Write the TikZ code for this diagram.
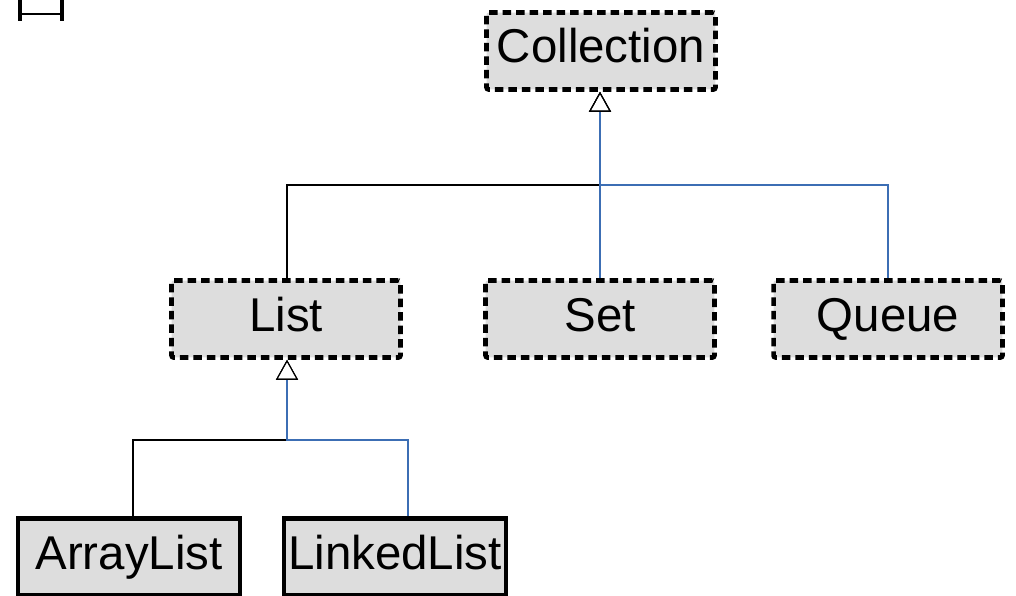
\documentclass[tikz,border=0pt]{standalone}
\usepackage{fontspec}
\setmainfont{Liberation Sans}
\usetikzlibrary{positioning, arrows.meta, calc}

\definecolor{boxgray}{HTML}{DDDDDD}
\definecolor{linkblue}{HTML}{3C6EB4}

\begin{document}
\begin{tikzpicture}[
		x=0.02cm, y=-0.02cm,
		iface/.style={draw, line width=2.6pt, dash pattern=on 0.17cm off 0.1cm, rounded corners=0.04cm, fill=boxgray, minimum width=4.58cm, minimum height=1.54cm, inner sep=0pt, text height=0.68cm, text depth=0.2cm, font=\fontsize{27}{32}\selectfont},
		impl/.style={draw, line width=2.6pt, fill=boxgray, minimum width=4.44cm, minimum height=1.54cm, inner sep=0pt, text height=0.68cm, text depth=0.2cm, font=\fontsize{27}{32}\selectfont},
		gen/.style={-{Triangle[open, width=0.44cm, length=0.4cm, color=black]}, line width=0.6pt},
		genblue/.style={gen, draw=linkblue}
		]
		
		\useasboundingbox (0,0) rectangle (1016,595);
		
		% ==========================================
		% INTERFACES
		% ==========================================
		
		\node[iface] (Collection) at (601,51) {Collection};
		
		\node[iface] (List) at (286,319) {List};
		\node[iface] (Set) at (600,319) {Set};
		\node[iface] (Queue) at (888,319) {Queue};
		
		% ==========================================
		% CLASSES
		% ==========================================
		
		\node[impl] (ArrayList) at (129,557) {ArrayList};
		\node[impl] (LinkedList) at (395,557) {LinkedList};
		
		% ==========================================
		% GENERALIZATIONS
		% ==========================================
		
		\coordinate (TopJoin) at (600,185);
		\coordinate (ListJoin) at (287,440);
		
		\draw[gen] (List.north -| 287,0) |- (TopJoin) -- (Collection.south -| TopJoin);
		\draw[genblue] (Set.north) -- (Collection.south -| TopJoin);
		\draw[genblue] (Queue.north) |- (TopJoin) -- (Collection.south -| TopJoin);
		
		\draw[gen] (ArrayList.north -| 133,0) |- (ListJoin) -- (List.south -| ListJoin);
		\draw[genblue] (LinkedList.north -| 408,0) |- (ListJoin) -- (List.south -| ListJoin);
		
		% legend fragment
		\draw[line width=2.2pt] (20,0) -- (20,21) (62,0) -- (62,21);
		\draw[line width=1pt] (20,14) -- (62,14);
		
	\end{tikzpicture}
\end{document}
